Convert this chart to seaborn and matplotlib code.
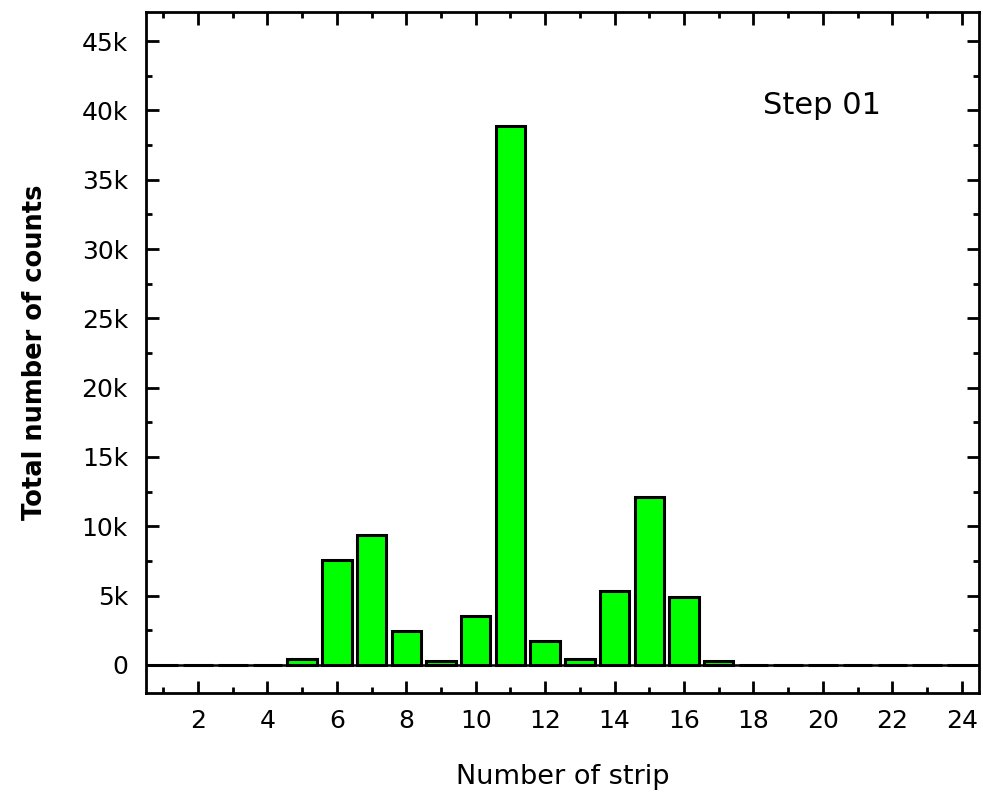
import matplotlib
matplotlib.use("Agg")
import matplotlib.pyplot as plt
import seaborn as sns
import pandas as pd
from matplotlib.ticker import FixedLocator, MultipleLocator

strips = list(range(1, 25))
counts = [0, 0, 0, 0, 450, 7580, 9380, 2480, 290, 3540, 38840, 1750,
          450, 5340, 12100, 4930, 270, 0, 0, 0, 0, 0, 0, 0]
y_ticks = [0, 5000, 10000, 15000, 20000, 25000, 30000, 35000, 40000, 45000]
y_tick_labels = ["0", "5k", "10k", "15k", "20k", "25k", "30k", "35k", "40k", "45k"]
x_ticks = [2, 4, 6, 8, 10, 12, 14, 16, 18, 20, 22, 24]
annotation = "Step 01"

sns.set_theme(style="white")
plt.rcParams["font.family"] = ["DejaVu Sans"]
plt.rcParams["text.color"] = "black"
plt.rcParams["axes.labelcolor"] = "black"
plt.rcParams["xtick.color"] = "black"
plt.rcParams["ytick.color"] = "black"

df = pd.DataFrame({"strip": strips, "counts": counts})

fig = plt.figure(figsize=(9.83, 7.95), dpi=100)
ax = fig.add_axes([0.1485, 0.1287, 0.996 - 0.1485, 0.985 - 0.1287])

sns.barplot(data=df, x="strip", y="counts", native_scale=True, width=0.85,
            color="#00ff00", saturation=1, edgecolor="black", linewidth=2.2,
            ax=ax, zorder=2)
for p in ax.patches:
    p.set_facecolor("#00ff00")

ax.axhline(0, color="black", linewidth=1.8, zorder=3)

ax.set_xlim(0.5, 24.5)
ax.set_ylim(-2000, 47100)

ax.xaxis.set_major_locator(FixedLocator(x_ticks))
ax.set_xticklabels([str(t) for t in x_ticks])
ax.xaxis.set_minor_locator(MultipleLocator(1))
ax.yaxis.set_major_locator(FixedLocator(y_ticks))
ax.set_yticklabels(y_tick_labels)
ax.yaxis.set_minor_locator(MultipleLocator(2500))

ax.tick_params(which="both", direction="in", top=True, right=True,
               bottom=True, left=True, color="black", width=2,
               labelcolor="black")
ax.tick_params(which="major", length=9, labelsize=18, pad=12)
ax.tick_params(which="minor", length=4)
ax.tick_params(axis="y", which="major", pad=13)

for s in ax.spines.values():
    s.set_color("black")
    s.set_linewidth(2)
    s.set_visible(True)

ax.set_xlabel("Number of strip", fontsize=19.5, labelpad=22, color="black")
ax.set_ylabel("Total number of counts", fontsize=18.5, fontweight="bold",
              labelpad=24, color="black")

ax.text(0.812, 0.863, annotation, transform=ax.transAxes, fontsize=22,
        ha="center", va="center", color="black")

fig.savefig("out.png", dpi=100)
